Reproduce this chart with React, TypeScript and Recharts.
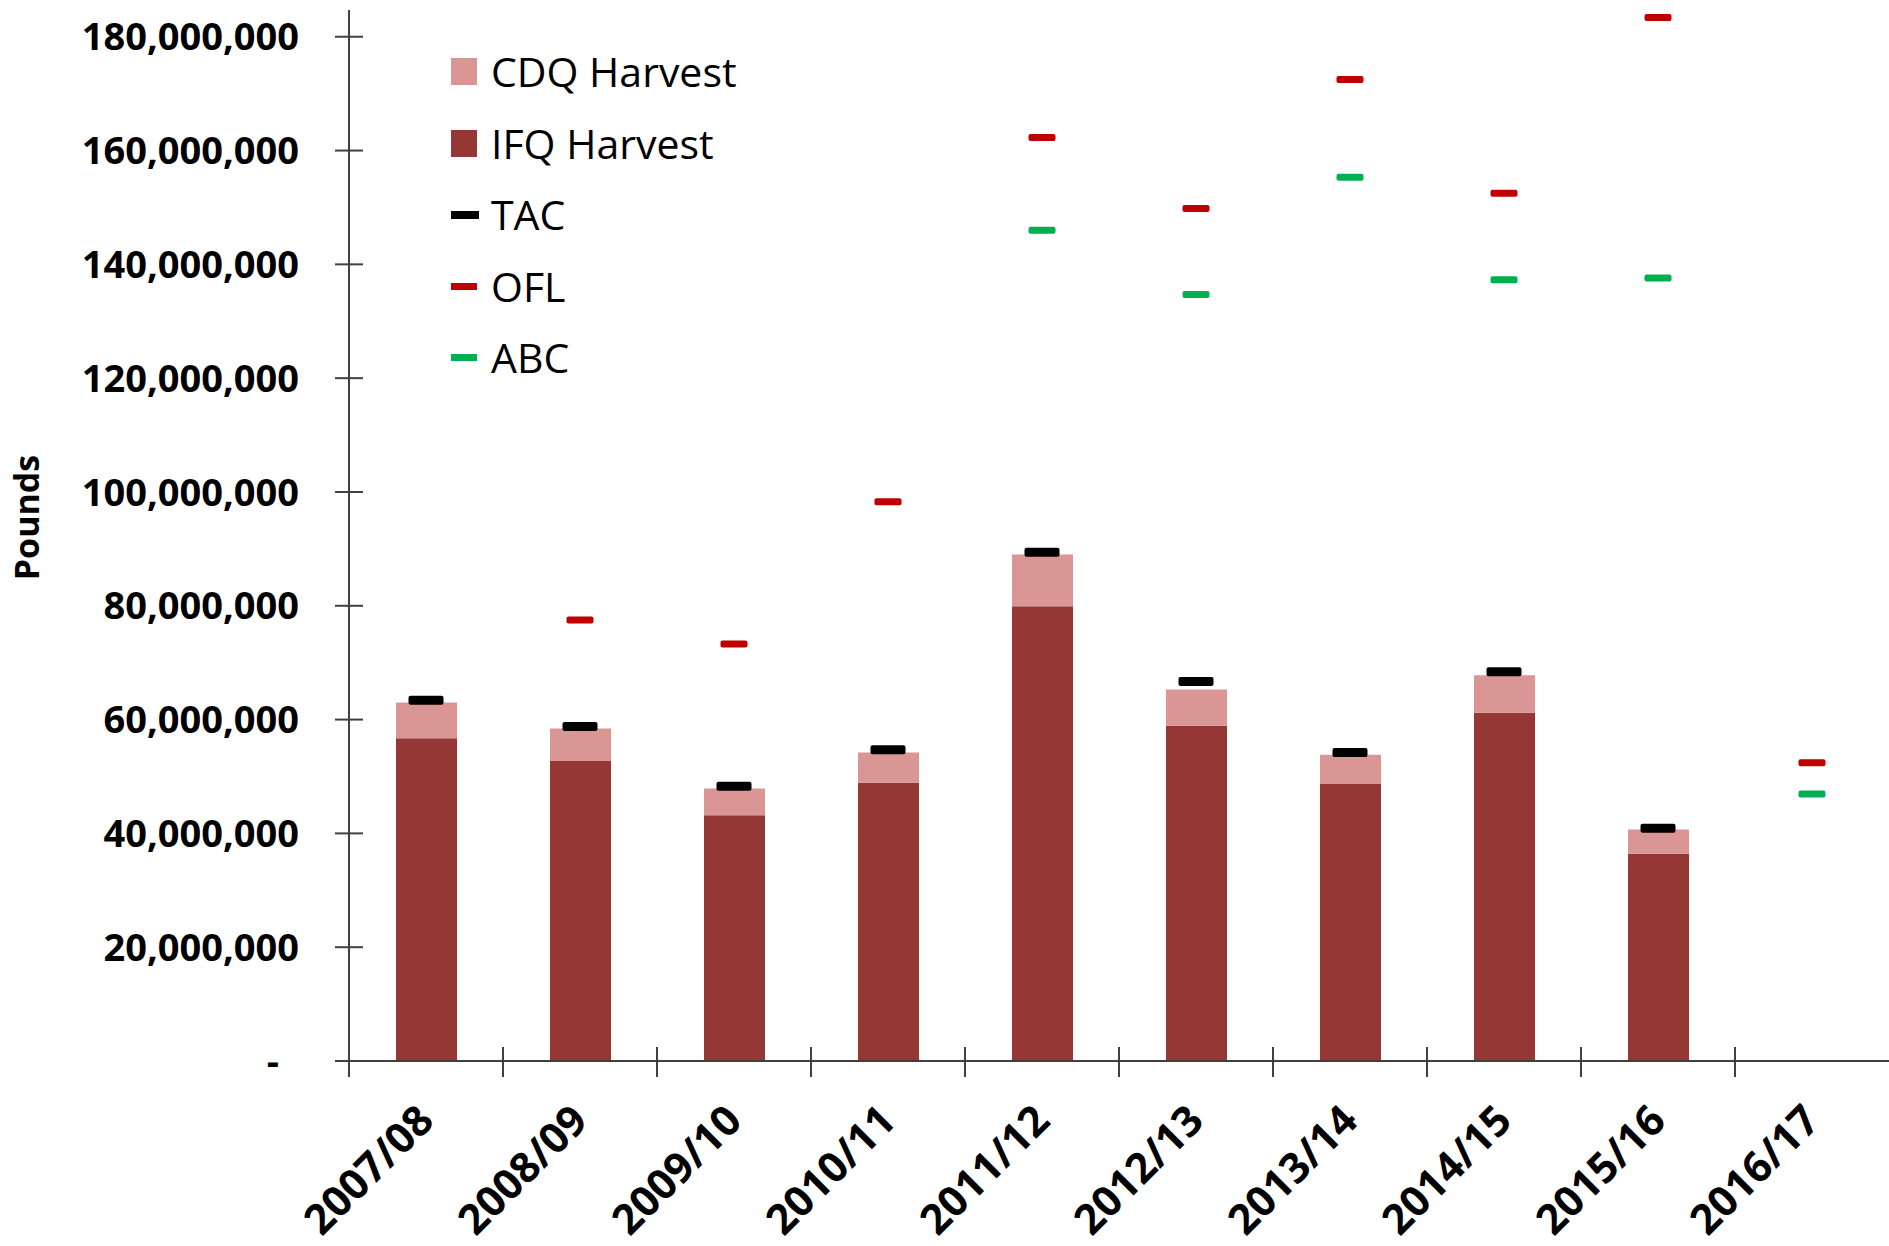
import React from 'react';
import { ComposedChart, Bar, Line, XAxis, YAxis, Legend } from 'recharts';

// season labels on the x axis
const categories = [
  '2007/08', '2008/09', '2009/10', '2010/11', '2011/12',
  '2012/13', '2013/14', '2014/15', '2015/16', '2016/17',
];

// pounds
const ifqHarvest = [56700000, 52700000, 43200000, 48900000, 79900000, 58900000, 48700000, 61200000, 36400000, null];
const cdqHarvest = [6300000, 5750000, 4700000, 5300000, 9100000, 6400000, 5100000, 6600000, 4300000, null];
const tac = [63400000, 58800000, 48300000, 54700000, 89400000, 66700000, 54200000, 68400000, 40900000, null];
const ofl = [null, 77500000, 73300000, 98300000, 162300000, 149800000, 172500000, 152500000, 183400000, 52400000];
const abc = [null, null, null, null, 146000000, 134700000, 155300000, 137300000, 137600000, 46900000];

const yTicks = [0, 20000000, 40000000, 60000000, 80000000, 100000000, 120000000, 140000000, 160000000, 180000000];

const data = categories.map((season, i) => ({
  season,
  ifq: ifqHarvest[i],
  cdq: cdqHarvest[i],
  tac: tac[i],
  ofl: ofl[i],
  abc: abc[i],
}));

const W = 1889;
const H = 1246;
const Y_AXIS_W = 349;
const X_AXIS_H = 185;
const TOP = 10;
const AXIS_Y = H - X_AXIS_H;
const BAND = (W - Y_AXIS_W) / categories.length;
const FONT = "'Open Sans', sans-serif";
const AXIS_COLOR = '#404040';

const legendItems = [
  { name: 'CDQ Harvest', color: '#D99694', kind: 'box' },
  { name: 'IFQ Harvest', color: '#953735', kind: 'box' },
  { name: 'TAC', color: '#000000', kind: 'tac' },
  { name: 'OFL', color: '#C00000', kind: 'dash' },
  { name: 'ABC', color: '#00B050', kind: 'dash' },
];

const YTick = (props: any) => {
  const { y, payload } = props;
  const v = payload.value;
  return (
    <g>
      <line x1={Y_AXIS_W - 14} x2={Y_AXIS_W + 14} y1={y} y2={y} stroke={AXIS_COLOR} strokeWidth={2} />
      <text
        x={v === 0 ? Y_AXIS_W - 70 : Y_AXIS_W - 50}
        y={y}
        dy="0.36em"
        textAnchor="end"
        fontFamily={FONT}
        fontWeight={700}
        fontSize={38}
        fill="#000"
      >
        {v === 0 ? '-' : v.toLocaleString('en-US')}
      </text>
    </g>
  );
};

const XTick = (props: any) => {
  const { x, payload } = props;
  const left = x - BAND / 2;
  const ax = x + 10;
  const ay = AXIS_Y + 62;
  return (
    <g>
      <line x1={left} x2={left} y1={AXIS_Y - 14} y2={AXIS_Y + 16} stroke={AXIS_COLOR} strokeWidth={2} />
      <text
        x={ax}
        y={ay}
        textAnchor="end"
        transform={`rotate(-45, ${ax}, ${ay})`}
        fontFamily={FONT}
        fontWeight={700}
        fontSize={42}
        fill="#000"
      >
        {payload.value}
      </text>
    </g>
  );
};

const marker = (w: number, h: number, fill: string, name: string) => (props: any) => {
  const { cx, cy, index, value } = props;
  if (cx == null || cy == null || value == null) return <g key={`${name}-${index}`} />;
  return <rect key={`${name}-${index}`} x={cx - w / 2} y={cy - h / 2} width={w} height={h} rx={2} fill={fill} />;
};

const renderLegend = () => (
  <div style={{ fontFamily: FONT, fontSize: 41, color: '#000' }}>
    {legendItems.map((item) => (
      <div key={item.name} style={{ display: 'flex', alignItems: 'center', height: 71.5 }}>
        <div style={{ width: 40, display: 'flex', alignItems: 'center' }}>
          {item.kind === 'box' && <div style={{ width: 26, height: 27, background: item.color }} />}
          {item.kind === 'tac' && <div style={{ width: 28, height: 8, background: item.color }} />}
          {item.kind === 'dash' && <div style={{ width: 26, height: 7, background: item.color }} />}
        </div>
        <span style={{ lineHeight: 1 }}>{item.name}</span>
      </div>
    ))}
  </div>
);

const poundsLabel = (props: any) => {
  const vb = props.viewBox;
  const cy = vb.y + vb.height / 2 - 18;
  return (
    <text
      x={27}
      y={cy}
      transform={`rotate(-90, 27, ${cy})`}
      textAnchor="middle"
      dy="0.36em"
      fontFamily={FONT}
      fontWeight={700}
      fontSize={34}
      fill="#000"
    >
      Pounds
    </text>
  );
};

export default function App() {
  return (
    <div style={{ width: W, height: H, background: '#fff' }}>
      <style>{'body{margin:0}'}</style>
      <ComposedChart width={W} height={H} data={data} margin={{ top: TOP, right: 0, bottom: 0, left: 0 }}>
        <XAxis
          dataKey="season"
          height={X_AXIS_H}
          interval={0}
          tickLine={false}
          axisLine={{ stroke: AXIS_COLOR, strokeWidth: 2 }}
          tick={<XTick />}
        />
        <YAxis
          width={Y_AXIS_W}
          domain={[0, 184700000]}
          ticks={yTicks}
          interval={0}
          tickLine={false}
          axisLine={{ stroke: AXIS_COLOR, strokeWidth: 2 }}
          tick={<YTick />}
          label={poundsLabel}
        />
        <Legend
          content={renderLegend}
          layout="vertical"
          align="center"
          verticalAlign="middle"
          wrapperStyle={{ left: 451, top: 36, width: 'auto', height: 'auto' }}
        />
        <Bar dataKey="ifq" name="IFQ Harvest" stackId="h" fill="#953735" barSize={61} isAnimationActive={false} />
        <Bar dataKey="cdq" name="CDQ Harvest" stackId="h" fill="#D99694" barSize={61} isAnimationActive={false} />
        <Line dataKey="tac" name="TAC" stroke="none" dot={marker(35, 9, '#000000', 'tac')} activeDot={false} legendType="none" isAnimationActive={false} />
        <Line dataKey="ofl" name="OFL" stroke="none" dot={marker(27, 7, '#C00000', 'ofl')} activeDot={false} legendType="none" isAnimationActive={false} />
        <Line dataKey="abc" name="ABC" stroke="none" dot={marker(27, 7, '#00B050', 'abc')} activeDot={false} legendType="none" isAnimationActive={false} />
      </ComposedChart>
    </div>
  );
}
